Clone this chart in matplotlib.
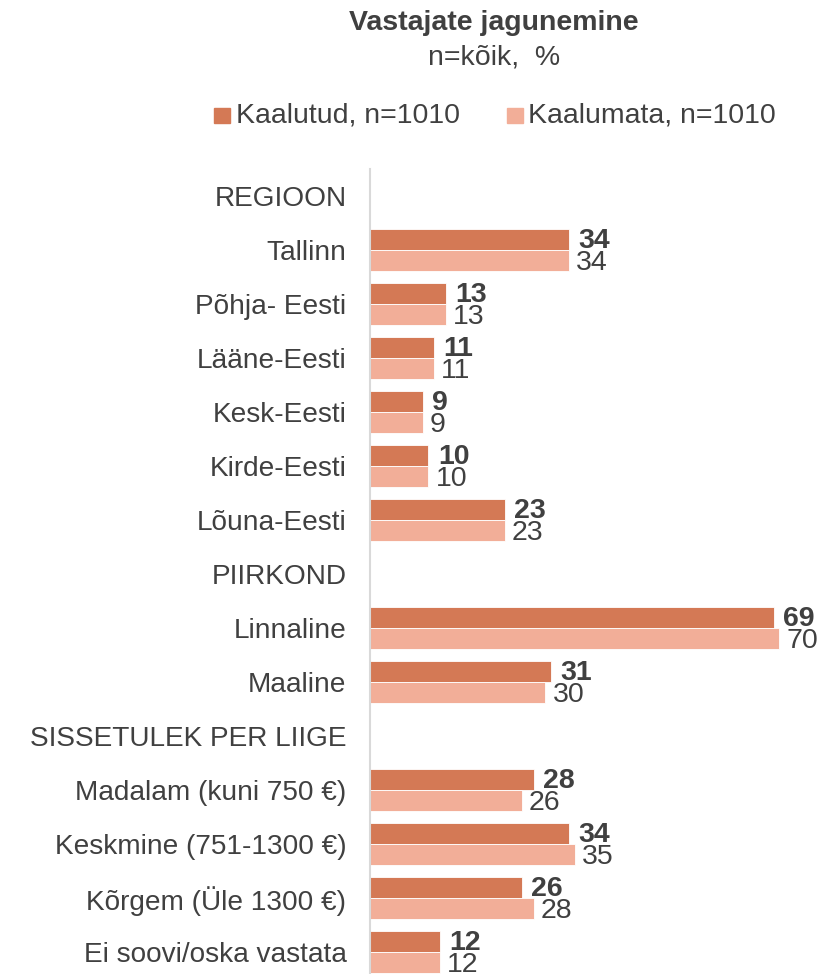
import numpy as np
import matplotlib.pyplot as plt

plt.rcParams['font.family'] = ['Liberation Sans', 'DejaVu Sans']

categories = ['REGIOON', 'Tallinn', 'Põhja- Eesti', 'Lääne-Eesti', 'Kesk-Eesti',
              'Kirde-Eesti', 'Lõuna-Eesti', 'PIIRKOND', 'Linnaline', 'Maaline',
              'SISSETULEK PER LIIGE', 'Madalam (kuni 750 €)', 'Keskmine (751-1300 €)',
              'Kõrgem (Üle 1300 €)', 'Ei soovi/oska vastata']
weighted = [None, 34, 13, 11, 9, 10, 23, None, 69, 31, None, 28, 34, 26, 12]
unweighted = [None, 34, 13, 11, 9, 10, 23, None, 70, 30, None, 26, 35, 28, 12]
series_names = ['Kaalutud, n=1010', 'Kaalumata, n=1010']

dark = '#D47955'
light = '#F2AE98'
txt = '#404040'
fs = 20.5

fig = plt.figure(figsize=(8.28, 9.74), dpi=100)
ax = fig.add_axes([370/828, 0, 458/828, 1 - 169/974])

y = np.arange(len(categories))
h = 0.39
w_vals = np.array([np.nan if v is None else v for v in weighted], dtype=float)
u_vals = np.array([np.nan if v is None else v for v in unweighted], dtype=float)
ax.barh(y - h/2, np.nan_to_num(w_vals), height=h, color=dark, edgecolor='white', linewidth=0.6)
ax.barh(y + h/2, np.nan_to_num(u_vals), height=h, color=light, edgecolor='white', linewidth=0.6)

# value labels (overlapping like in the original)
for yi, v in zip(y, w_vals):
    if not np.isnan(v):
        ax.text(v + 1.6, yi - h/2 + 0.03, f'{int(v)}', va='center', ha='left',
                fontsize=fs, fontweight='bold', color=txt)
for yi, v in zip(y, u_vals):
    if not np.isnan(v):
        ax.text(v + 1.2, yi + h/2 + 0.04, f'{int(v)}', va='center', ha='left',
                fontsize=fs, color=txt)

ax.set_xlim(0, 458/5.85)
ax.set_ylim((974-196)/54, -0.5)
ax.set_yticks(y)
ax.set_yticklabels(categories, fontsize=20.2, color=txt)
ax.tick_params(axis='y', length=0, pad=17)
ax.set_xticks([])
for s in ['top', 'right', 'bottom']:
    ax.spines[s].set_visible(False)
ax.spines['left'].set_color('#D9D9D9')
ax.spines['left'].set_linewidth(1.5)

fig.text(494/828, 1 - 23/974, 'Vastajate jagunemine', ha='center', va='center',
         fontsize=fs, fontweight='bold', color=txt)
fig.text(494/828, 1 - 57/974, 'n=kõik,  %', ha='center', va='center',
         fontsize=fs, color=txt)

# legend
fig.patches.append(plt.Rectangle((214/828, 1 - 123/974), 16/828, 15/974,
                                 transform=fig.transFigure, color=dark))
fig.text(236/828, 1 - 116/974, series_names[0], ha='left', va='center', fontsize=fs, color=txt)
fig.patches.append(plt.Rectangle((507/828, 1 - 123/974), 16/828, 15/974,
                                 transform=fig.transFigure, color=light))
fig.text(528/828, 1 - 116/974, series_names[1], ha='left', va='center', fontsize=fs, color=txt)

fig.savefig('out.png', dpi=100)
